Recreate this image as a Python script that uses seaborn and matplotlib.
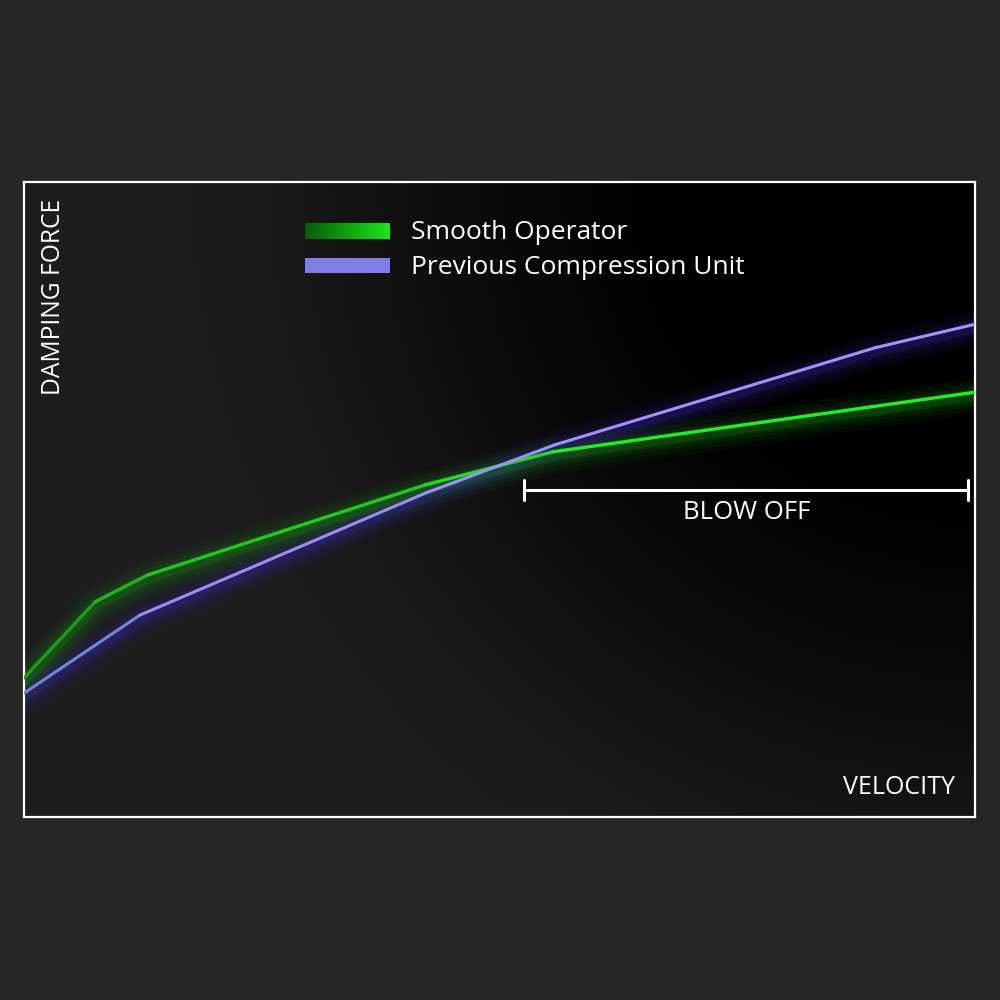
import matplotlib
matplotlib.use("Agg")
import matplotlib.pyplot as plt
import matplotlib.transforms as mtransforms
from matplotlib.patches import Rectangle
import seaborn as sns
import numpy as np

# velocity / damping force curves (arbitrary units, 0-10)
velocity_smooth = [0.0, 0.75, 1.30, 4.22, 5.56, 10.0]
force_smooth = [2.19, 3.39, 3.81, 5.23, 5.75, 6.69]

velocity_prev = [0.0, 1.22, 4.22, 5.58, 8.95, 10.0]
force_prev = [1.95, 3.18, 5.10, 5.86, 7.39, 7.76]

# blow off range
blow_off_start = 5.26
blow_off_end = 9.93
blow_off_level = 5.15

series_names = ["Smooth Operator", "Previous Compression Unit"]

sns.set_style("dark")
plt.rcParams['font.family'] = ['Open Sans', 'DejaVu Sans']

fig = plt.figure(figsize=(10, 10), dpi=100, facecolor='#262626')
ax = fig.add_axes([0.024, 0.183, 0.951, 0.635])
ax.set_xlim(0, 10)
ax.set_ylim(0, 10)

# background gradient, lighter bottom-left, black top-right
nx, ny = 300, 200
gx, gy = np.meshgrid(np.linspace(0, 951, nx), np.linspace(0, 635, ny))
d = np.hypot(951 - gx, 635 - gy)
s = np.clip((d - 250) / 600, 0, 1)
s = s * s * (3 - 2 * s)
v = (29 * s) / 255.0
bg = np.dstack([v, v, v])
ax.imshow(bg, extent=[0, 10, 0, 10], origin='lower', aspect='auto', zorder=0)

# glow layers (soft, slightly below the lines)
shadow = mtransforms.offset_copy(ax.transData, fig=fig, x=0, y=-4, units='dots')
for lw, a in [(26, 0.05), (20, 0.07), (14, 0.09), (9, 0.13), (6, 0.17)]:
    sns.lineplot(x=velocity_prev, y=force_prev, ax=ax, color='#3a28b0', lw=lw,
                 alpha=a, sort=False, transform=shadow, zorder=2)
    sns.lineplot(x=velocity_smooth, y=force_smooth, ax=ax, color='#18a010', lw=lw,
                 alpha=a, sort=False, transform=shadow, zorder=2)

# main lines, segment by segment for the colour ramp
green_ramp = ['#1f9a1f', '#22b322', '#22c822', '#22dc22', '#22ee22']
for i in range(len(velocity_smooth) - 1):
    sns.lineplot(x=velocity_smooth[i:i + 2], y=force_smooth[i:i + 2], ax=ax,
                 color=green_ramp[i], lw=2.4, sort=False, zorder=4,
                 solid_capstyle='round')
purple_ramp = ['#6f86e0', '#9c8cf5', '#a090f8', '#a292f8', '#a494fa']
for i in range(len(velocity_prev) - 1):
    sns.lineplot(x=velocity_prev[i:i + 2], y=force_prev[i:i + 2], ax=ax,
                 color=purple_ramp[i], lw=2.2, sort=False, zorder=5,
                 solid_capstyle='round')

# blow off bracket
tick_h = 0.16
ax.plot([blow_off_start, blow_off_end], [blow_off_level, blow_off_level],
        color='white', lw=2.2, zorder=6)
for bx in [blow_off_start, blow_off_end]:
    ax.plot([bx, bx], [blow_off_level - tick_h, blow_off_level + tick_h],
            color='white', lw=2.2, zorder=6)
ax.text((blow_off_start + blow_off_end) / 2, blow_off_level - 0.36, "BLOW OFF",
        color='white', fontsize=18.5, ha='center', va='center', zorder=6)

# axis labels inside the frame
ax.text(0.0305, 0.973, "DAMPING FORCE", transform=ax.transAxes, rotation=90,
        color='white', fontsize=17.7, ha='center', va='top')
ax.text(0.979, 0.046, "VELOCITY", transform=ax.transAxes,
        color='white', fontsize=18, ha='right', va='center')

# legend
grad = np.linspace(0, 1, 100).reshape(1, -1)
green_cmap = matplotlib.colors.LinearSegmentedColormap.from_list(
    "g", ['#0a5a0a', '#18e818'])
ax.imshow(grad, cmap=green_cmap, extent=[0.296, 0.385, 0.911, 0.936],
          transform=ax.transAxes, aspect='auto', zorder=7)
ax.add_patch(Rectangle((0.296, 0.856), 0.089, 0.025, transform=ax.transAxes,
                       facecolor='#7d7ee6', edgecolor='none', zorder=7))
ax.text(0.407, 0.920, series_names[0], transform=ax.transAxes, color='white',
        fontsize=19, va='center', ha='left')
ax.text(0.407, 0.865, series_names[1], transform=ax.transAxes, color='white',
        fontsize=19, va='center', ha='left')

ax.set_xlim(0, 10)
ax.set_ylim(0, 10)
ax.set_xticks([])
ax.set_yticks([])
ax.set_xlabel("")
ax.set_ylabel("")
ax.grid(False)
for sp in ax.spines.values():
    sp.set_visible(True)
    sp.set_color('white')
    sp.set_linewidth(1.6)

fig.savefig("out.png", dpi=100, facecolor=fig.get_facecolor())
